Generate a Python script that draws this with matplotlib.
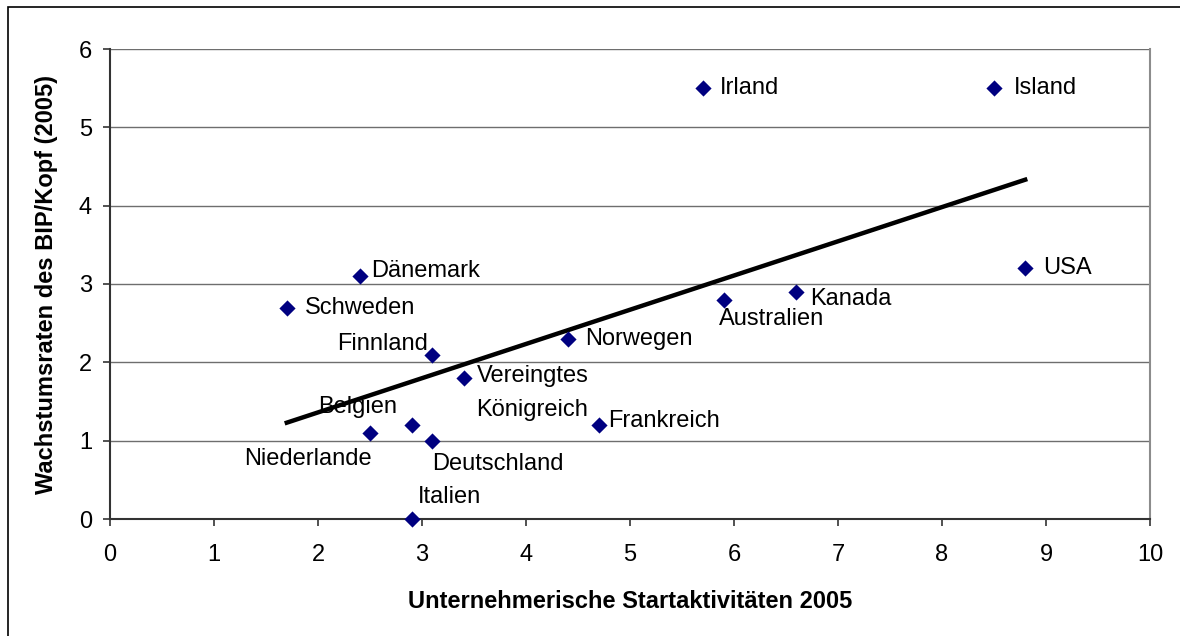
import numpy as np
import matplotlib.pyplot as plt
from matplotlib.patches import Rectangle

plt.rcParams['font.family'] = ['Liberation Sans', 'DejaVu Sans']

countries = ["Irland", "Island", "USA", "Dänemark", "Schweden", "Finnland",
             "Vereingtes\nKönigreich", "Norwegen", "Australien", "Kanada",
             "Frankreich", "Belgien", "Niederlande", "Deutschland", "Italien"]
start_activity = [5.7, 8.5, 8.8, 2.4, 1.7, 3.1, 3.4, 4.4, 5.9, 6.6, 4.7, 2.9, 2.5, 3.1, 2.9]
gdp_growth = [5.5, 5.5, 3.2, 3.1, 2.7, 2.1, 1.8, 2.3, 2.8, 2.9, 1.2, 1.2, 1.1, 1.0, 0.0]

# label placement: (dx, dy) in pixels from the marker, horizontal alignment
label_pos = {
    "Irland": (17, 0, "left"),
    "Island": (20, 0, "left"),
    "USA": (18, 0, "left"),
    "Dänemark": (12, 5, "left"),
    "Schweden": (18, 0, "left"),
    "Finnland": (-4, 10, "right"),
    "Vereingtes\nKönigreich": (13, -15, "left"),
    "Norwegen": (18, 0, "left"),
    "Australien": (-5, -19, "left"),
    "Kanada": (14, -7, "left"),
    "Frankreich": (9, 4, "left"),
    "Belgien": (-54, 18, "center"),
    "Niederlande": (2, -26, "right"),
    "Deutschland": (0, -23, "left"),
    "Italien": (6, 22, "left"),
}

FS = 17

fig = plt.figure(figsize=(11.8, 6.36), dpi=100)
ax = fig.add_axes([110 / 1180, 1 - 519 / 636, 1040 / 1180, 470 / 636])

# outer chart frame
fig.patches.append(Rectangle((8 / 1180, -0.05), 1.2, 1 - 7 / 636 + 0.05,
                             transform=fig.transFigure, fill=False,
                             edgecolor="black", lw=1.2))

ax.set_xlim(0, 10)
ax.set_ylim(0, 6)
ax.set_xticks(range(0, 11))
ax.set_yticks(range(0, 7))
ax.yaxis.grid(True, color="#6e6e6e", lw=1.0)
ax.set_axisbelow(True)

ax.spines["top"].set_visible(False)
ax.spines["right"].set_color("#8c8c8c")
ax.spines["right"].set_linewidth(1.5)
ax.spines["left"].set_color("#333333")
ax.spines["left"].set_linewidth(1.5)
ax.spines["bottom"].set_color("#333333")
ax.spines["bottom"].set_linewidth(1.5)
ax.tick_params(direction="out", length=5, width=1.2, color="#333333",
               labelsize=FS)
ax.tick_params(axis="x", pad=13)
ax.tick_params(axis="y", pad=8)

ax.scatter(start_activity, gdp_growth, marker="D", s=68, color="#000080",
           linewidths=0, zorder=3, clip_on=False)

# linear trend over the data range
x = np.array(start_activity)
y = np.array(gdp_growth)
slope, intercept = np.polyfit(x, y, 1)
xs = np.array([x.min(), x.max()])
ax.plot(xs, slope * xs + intercept, color="black", lw=3.2, zorder=2)

for name, xv, yv in zip(countries, start_activity, gdp_growth):
    dx, dy, ha = label_pos[name]
    ax.annotate(name, (xv, yv), xytext=(dx, dy), textcoords="offset pixels",
                ha=ha, va="center", fontsize=FS, linespacing=1.65, zorder=4)

ax.set_xlabel("Unternehmerische Startaktivitäten 2005", fontsize=FS,
              fontweight="bold", labelpad=17)
ax.set_ylabel("Wachstumsraten des BIP/Kopf (2005)", fontsize=FS,
              fontweight="bold", labelpad=15)

fig.savefig("out.png", dpi=100)
